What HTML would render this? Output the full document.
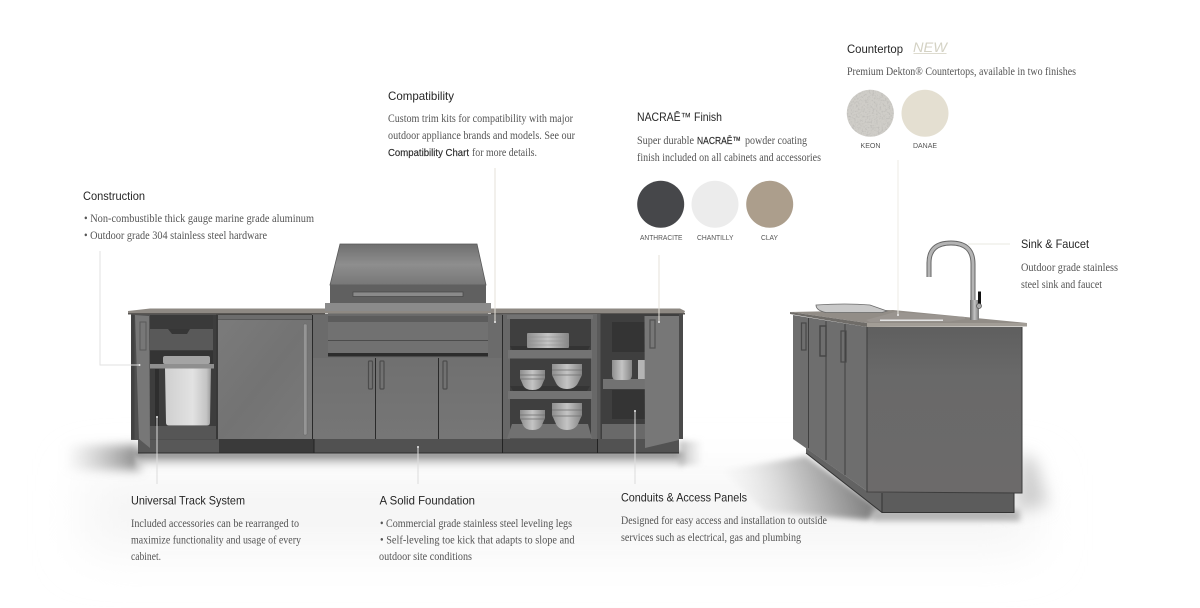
<!DOCTYPE html>
<html><head><meta charset="utf-8"><style>
html,body{margin:0;padding:0;background:#fff;width:1200px;height:608px;overflow:hidden}
svg{display:block}
.h{font-family:"Liberation Sans",sans-serif;font-size:12px;fill:#262626}
.b{font-family:"Liberation Serif",serif;font-size:11.5px;fill:#555}
.bs{font-family:"Liberation Sans",sans-serif;font-size:10.5px;fill:#2a2a2a;stroke:#2a2a2a;stroke-width:.15}
.l{font-family:"Liberation Sans",sans-serif;font-size:7.5px;fill:#555}
</style></head><body>
<svg width="1200" height="608" viewBox="0 0 1200 608" xmlns="http://www.w3.org/2000/svg">
<defs>
<filter id="b30" x="-30%" y="-100%" width="160%" height="300%"><feGaussianBlur stdDeviation="24"/></filter>
<filter id="b8" x="-40%" y="-60%" width="180%" height="220%"><feGaussianBlur stdDeviation="8"/></filter>
<filter id="b5" x="-40%" y="-100%" width="180%" height="300%"><feGaussianBlur stdDeviation="5"/></filter>
<filter id="b3" x="-40%" y="-100%" width="180%" height="300%"><feGaussianBlur stdDeviation="3"/></filter>
<filter id="b2" x="-10%" y="-60%" width="120%" height="220%"><feGaussianBlur stdDeviation="2"/></filter>
<filter id="speck" x="0" y="0" width="100%" height="100%"><feTurbulence type="fractalNoise" baseFrequency="0.55" numOctaves="3" seed="4"/><feColorMatrix values="0 0 0 0 .42  0 0 0 0 .41  0 0 0 0 .40  1.6 0 0 0 -.75"/><feComposite in2="SourceAlpha" operator="in"/><feMerge><feMergeNode in="SourceGraphic"/><feMergeNode/></feMerge></filter>
<linearGradient id="lid" x1="0" y1="0" x2="0" y2="1"><stop offset="0" stop-color="#6f6f6f"/><stop offset=".5" stop-color="#8e8e8e"/><stop offset="1" stop-color="#777"/></linearGradient>
<linearGradient id="fr" x1="0" y1="0" x2="1" y2="1"><stop offset="0" stop-color="#7b7b7b"/><stop offset=".5" stop-color="#737373"/><stop offset="1" stop-color="#7a7a7a"/></linearGradient>
<linearGradient id="door" x1="0" y1="0" x2="0" y2="1"><stop offset="0" stop-color="#707070"/><stop offset="1" stop-color="#767676"/></linearGradient>
<linearGradient id="bin" x1="0" y1="0" x2="1" y2="0"><stop offset="0" stop-color="#cfcfcf"/><stop offset=".6" stop-color="#e2e2e2"/><stop offset=".9" stop-color="#c4c4c4"/><stop offset="1" stop-color="#9a9a9a"/></linearGradient>
<linearGradient id="bowl" x1="0" y1="0" x2="1" y2="0"><stop offset="0" stop-color="#8e8e8e"/><stop offset=".5" stop-color="#c4c4c4"/><stop offset="1" stop-color="#858585"/></linearGradient>
<linearGradient id="isl" x1="0" y1="0" x2="0" y2="1"><stop offset="0" stop-color="#5f5f5f"/><stop offset=".3" stop-color="#696969"/><stop offset="1" stop-color="#6c6a6a"/></linearGradient>
<linearGradient id="chrome" x1="0" y1="0" x2="1" y2="0"><stop offset="0" stop-color="#666"/><stop offset=".5" stop-color="#c4c4c4"/><stop offset="1" stop-color="#777"/></linearGradient>
<linearGradient id="under" x1="0" y1="0" x2="0" y2="1"><stop offset="0" stop-color="#777"/><stop offset=".35" stop-color="#b8b8b8"/><stop offset="1" stop-color="#fff" stop-opacity="0"/></linearGradient>
<linearGradient id="leftb" x1="0" y1="0" x2="1" y2="0"><stop offset="0" stop-color="#aaa" stop-opacity="0"/><stop offset="1" stop-color="#888"/></linearGradient>
<linearGradient id="rightb" x1="0" y1="0" x2="1" y2="0"><stop offset="0" stop-color="#bbb"/><stop offset="1" stop-color="#ccc" stop-opacity="0"/></linearGradient>
<linearGradient id="isll" gradientUnits="userSpaceOnUse" x1="860" y1="470" x2="725" y2="510"><stop offset="0" stop-color="#808080"/><stop offset=".45" stop-color="#c4c4c4"/><stop offset="1" stop-color="#f0f0f0" stop-opacity="0"/></linearGradient>
</defs>

<!-- soft floor shadows -->
<rect x="85" y="475" width="950" height="75" fill="#f5f5f5" filter="url(#b30)"/>
<rect x="65" y="445" width="75" height="25" fill="url(#leftb)" filter="url(#b5)"/>
<rect x="136" y="452" width="548" height="20" fill="url(#under)" filter="url(#b2)"/>
<rect x="679" y="441" width="24" height="24" fill="url(#rightb)" filter="url(#b3)"/>
<polygon points="722,470 806,456 882,510 868,520 765,512" fill="url(#isll)" filter="url(#b3)"/>
<rect x="872" y="509" width="148" height="12" fill="#b4b4b4" filter="url(#b3)"/>
<polygon points="1021,452 1036,462 1048,505 1014,512" fill="#cfcfcf" filter="url(#b8)"/>

<!-- MAIN UNIT -->
<rect x="138" y="439" width="81" height="14" fill="#585858"/>
<rect x="219" y="439" width="95" height="14" fill="#3a3a3a"/>
<rect x="314" y="439" width="188" height="14" fill="#515151"/>
<rect x="503" y="439" width="94" height="14" fill="#4c4c4c"/>
<rect x="598" y="439" width="81" height="14" fill="#525252"/>
<rect x="138" y="452.500" width="541" height="1" fill="#2a2a2a"/>
<path d="M314 439v14M502.500 439v14M597.500 439v14" stroke="#222" fill="none"/>

<!-- left cabinet -->
<rect x="131" y="314" width="87" height="126" fill="#4f4f4f"/>
<rect x="150" y="315" width="66" height="124" fill="#3d3d3d"/>
<rect x="150" y="329" width="63" height="21" fill="#595959"/>
<polygon points="168,329 190,329 187,334 172,334" fill="#363636"/>
<rect x="150" y="315" width="63" height="14" fill="#3a3a3a"/>
<rect x="150" y="351" width="63" height="14" fill="#343434"/>
<rect x="163" y="356" width="47" height="8" rx="2" fill="#a4a4a4"/>
<rect x="150" y="364" width="64" height="4.500" fill="#8f8f8f"/>
<path d="M165 368.500h46l-1 54q0 3-3 3h-38q-3 0-3-3z" fill="url(#bin)"/>
<rect x="155" y="369" width="4" height="58" fill="#2e2e2e"/>
<rect x="150" y="426" width="66" height="13" fill="#565656"/>
<polygon points="135,315 149,316 150,448 139,439" fill="#777"/>
<rect x="140" y="322" width="6" height="28" fill="none" stroke="#5a5a5a"/>
<rect x="131" y="314" width="3.500" height="125" fill="#424242"/>

<!-- fridge -->
<rect x="216" y="314" width="97" height="125" fill="#383838"/>
<rect x="218" y="315" width="94" height="4" fill="#6c6c6c"/>
<rect x="218" y="319.500" width="94" height="119.500" fill="url(#fr)"/>
<rect x="303.500" y="324" width="3.500" height="111" rx="1" fill="#959595" stroke="#666" stroke-width=".5"/>

<!-- lower doors -->
<rect x="312" y="314" width="192" height="125" fill="#6b6b6b"/>
<rect x="313" y="358" width="62" height="81" fill="url(#door)"/>
<rect x="376" y="358" width="62" height="81" fill="url(#door)"/>
<rect x="439" y="358" width="62.500" height="81" fill="url(#door)"/>
<path d="M375.500 358v81M438.500 358v81M312.500 315v124M502.500 315v124" stroke="#2a2a2a"/>
<rect x="368.500" y="361" width="4" height="28" rx="1" fill="none" stroke="#4c4c4c" stroke-width="1.200"/>
<rect x="380" y="361" width="4" height="28" rx="1" fill="none" stroke="#4c4c4c" stroke-width="1.200"/>
<rect x="443" y="361" width="4" height="28" rx="1" fill="none" stroke="#4c4c4c" stroke-width="1.200"/>

<!-- grill -->
<polygon points="340,244 477,244 486,285 330,285" fill="url(#lid)" stroke="#5a5a5a" stroke-width=".8"/>
<rect x="330" y="285" width="156" height="18" fill="#606060"/>
<rect x="353" y="292" width="110" height="4.500" fill="#8a8a8a" stroke="#484848" stroke-width=".7"/>
<rect x="325" y="303" width="166" height="8" fill="#8b8b8b"/>
<rect x="328" y="311" width="160" height="42" fill="#717171"/>
<rect x="328" y="311" width="160" height="5" fill="#6a6a6a"/>
<rect x="328" y="316" width="160" height="6" fill="#5c5c5c"/>
<path d="M328 340.500h160" stroke="#4c4c4c"/>
<rect x="328" y="353" width="160" height="3.500" fill="#2c2c2c"/>

<!-- countertop -->
<polygon points="128,311 150,308.500 325,308.500 325,311 491,311 491,308.500 680,308.500 685,311 684,313.500 128,313.500" fill="#8e8983"/>
<rect x="128" y="313" width="197" height="1.500" fill="#5a5754"/>
<rect x="491" y="313" width="194" height="1.500" fill="#5a5754"/>

<!-- shelving cabinet -->
<rect x="503" y="314" width="94" height="125" fill="#686868"/>
<rect x="510" y="319" width="81" height="120" fill="#3f3f3f"/>
<rect x="507" y="315" width="86" height="4" fill="#727272"/>
<rect x="508" y="350" width="84" height="8.500" fill="#737373"/>
<polygon points="512,350 588,350 590,346 510,346" fill="#333"/>
<rect x="508" y="391" width="84" height="8" fill="#737373"/>
<polygon points="513,391 587,391 590,386 510,386" fill="#353535"/>
<polygon points="507,438.500 512,424 588,424 592,438.500" fill="#717171"/>
<rect x="527" y="333" width="42" height="15" rx="1" fill="url(#bowl)"/>
<path d="M527 337h42M527 341h42M527 345h42" stroke="#8e8e8e" stroke-width=".6"/>
<path d="M520 370h25v8l-3 7q-2 5-9.500 5t-9.500-5l-3-7z" fill="url(#bowl)"/>
<path d="M552 364h30v11l-4 8q-3 6-11 6t-11-6l-4-8z" fill="url(#bowl)"/>
<path d="M520 410h25v8l-3 7q-2 5-9.500 5t-9.500-5l-3-7z" fill="url(#bowl)"/>
<path d="M552 403h30v12l-4 9q-3 6-11 6t-11-6l-4-9z" fill="url(#bowl)"/>
<path d="M520 375h25M520 379h25M552 370h30M552 375h30M520 415h25M520 419h25M552 410h30M552 416h30" stroke="#6e6e6e" stroke-width=".7"/>

<!-- right cabinet -->
<rect x="597" y="314" width="86" height="125" fill="#3f3f3f"/>
<rect x="597" y="314" width="3.500" height="125" fill="#5a5a5a"/>
<rect x="612" y="322" width="33" height="30" fill="#343434"/>
<rect x="612" y="390" width="33" height="29" fill="#343434"/>
<rect x="603" y="379" width="42" height="10" fill="#727272"/>
<path d="M612 360h20v15q0 5-5 5h-10q-5 0-5-5z" fill="url(#bowl)"/>
<rect x="638" y="360" width="7" height="19" fill="#b4b4b4"/>
<rect x="602" y="424" width="43" height="15" fill="#696969"/>
<polygon points="644.500,316 679,316 679,440 645,448" fill="#777"/>
<rect x="650" y="320" width="5" height="28" fill="none" stroke="#525252" stroke-width="1.200"/>
<rect x="679" y="314" width="4" height="125" fill="#4a4a4a"/>

<!-- ISLAND -->
<rect x="882" y="493" width="132" height="20" fill="#5c5c5c"/>
<polygon points="806,448 867,491 882,493 882,512.500 806,453" fill="#626262"/>
<path d="M882 493v19.500H1014V493M806 453L882 512.500" stroke="#333" fill="none"/>
<polygon points="793,315 867,327 867,491 793,439" fill="#6e6e6e"/>
<path d="M808.500 318v130M826 321v139M845 324v151" stroke="#404040"/>
<rect x="867" y="327" width="155" height="166" fill="url(#isl)"/>
<path d="M867 327v165L1022 493v-166" stroke="#3c3c3c" fill="none"/>
<rect x="801.500" y="323" width="4.500" height="27" fill="none" stroke="#484848" stroke-width="1.200"/>
<rect x="820" y="326" width="6" height="30" fill="none" stroke="#444" stroke-width="1.400"/>
<rect x="841" y="331" width="5" height="31" fill="none" stroke="#484848" stroke-width="1.200"/>
<polygon points="790,312 893,310 1027,323 867,323" fill="#928d87"/>
<polygon points="790,312 867,323 867,327 790,314" fill="#6f6c68"/>
<polygon points="867,323 1027,323 1027,326.500 867,327" fill="#a29d96"/>
<polygon points="866,320 895,312 965,317 965,319 950,321.500 870,322" fill="#9a9590"/>
<rect x="880" y="319.500" width="63" height="1.500" fill="#e4e4e4"/>
<path d="M816 305q30-2 54 0l17 6-5 1.500H826q-10-2-10-7.500z" fill="#c9c9c9" stroke="#6a6a6a" stroke-width=".8"/>
<!-- faucet -->
<path d="M973 316V264q0-21-22-21t-22 20v14" fill="none" stroke="#666" stroke-width="5"/>
<path d="M973 316V264q0-21-22-21t-22 20v14" fill="none" stroke="#b4b4b4" stroke-width="3"/>
<rect x="970" y="300" width="9" height="20" fill="url(#chrome)"/>
<rect x="978" y="291.500" width="3" height="13" fill="#111"/>
<circle cx="979" cy="306" r="2.500" fill="#aaa" stroke="#555" stroke-width=".7"/>

<!-- connectors -->
<path d="M100 251V365H139" fill="none" stroke="#e2e2e2"/>
<path d="M495 168V322" stroke="#e4e1da"/>
<path d="M659 255V322" stroke="#e4e1da"/>
<path d="M898 160V315" stroke="#ecebe4"/>
<path d="M968 244H1010" stroke="#e8e8e0"/>
<path d="M157 417V484" stroke="#dcdcdc"/>
<path d="M418 447V484" stroke="#dcdcdc"/>
<path d="M635 411V484" stroke="#dcdcdc"/>
<g fill="#eee"><circle cx="139.500" cy="365" r="1"/><circle cx="495" cy="322" r="1"/><circle cx="659" cy="322" r="1"/><circle cx="898" cy="315" r="1"/><circle cx="157" cy="417" r="1"/><circle cx="418" cy="447" r="1"/><circle cx="635" cy="411" r="1"/></g>

<!-- TEXT -->
<text class="h" x="83" y="200" textLength="62" lengthAdjust="spacingAndGlyphs">Construction</text>
<text class="b" x="84" y="222" textLength="230" lengthAdjust="spacingAndGlyphs">• Non-combustible thick gauge marine grade aluminum</text>
<text class="b" x="84" y="239" textLength="183" lengthAdjust="spacingAndGlyphs">• Outdoor grade 304 stainless steel hardware</text>

<text class="h" x="388" y="100" textLength="66" lengthAdjust="spacingAndGlyphs">Compatibility</text>
<text class="b" x="388" y="122" textLength="185" lengthAdjust="spacingAndGlyphs">Custom trim kits for compatibility with major</text>
<text class="b" x="388" y="139" textLength="187" lengthAdjust="spacingAndGlyphs">outdoor appliance brands and models. See our</text>
<text class="bs" x="388" y="156" textLength="81" lengthAdjust="spacingAndGlyphs">Compatibility Chart</text>
<text class="b" x="472" y="156" textLength="65" lengthAdjust="spacingAndGlyphs">for more details.</text>

<text class="h" x="637" y="121" textLength="85" lengthAdjust="spacingAndGlyphs">NACRAĒ™ Finish</text>
<text class="b" x="637" y="144" textLength="57" lengthAdjust="spacingAndGlyphs">Super durable</text>
<text class="bs" x="697" y="144" textLength="44" lengthAdjust="spacingAndGlyphs">NACRAĒ™</text>
<text class="b" x="745" y="144" textLength="62" lengthAdjust="spacingAndGlyphs">powder coating</text>
<text class="b" x="637" y="161" textLength="184" lengthAdjust="spacingAndGlyphs">finish included on all cabinets and accessories</text>
<circle cx="660.700" cy="204.300" r="23.500" fill="#46474a"/>
<circle cx="715" cy="204.300" r="23.500" fill="#ececec"/>
<circle cx="769.700" cy="204.300" r="23.500" fill="#ac9e8c"/>
<text class="l" x="640" y="240" textLength="42.500" lengthAdjust="spacingAndGlyphs">ANTHRACITE</text>
<text class="l" x="697" y="240" textLength="36.500" lengthAdjust="spacingAndGlyphs">CHANTILLY</text>
<text class="l" x="761" y="240" textLength="17" lengthAdjust="spacingAndGlyphs">CLAY</text>

<text class="h" x="847" y="53" textLength="56" lengthAdjust="spacingAndGlyphs">Countertop</text>
<text x="913" y="52" font-family="Liberation Sans,sans-serif" font-style="italic" font-size="14" fill="#d4d2c4" textLength="34" lengthAdjust="spacingAndGlyphs">NEW</text>
<rect x="913.500" y="53" width="33" height="1" fill="#dddbcf"/>
<text class="b" x="847" y="75" textLength="229" lengthAdjust="spacingAndGlyphs">Premium Dekton® Countertops, available in two finishes</text>
<circle cx="870.300" cy="113.300" r="23.500" fill="#cfcdc8" filter="url(#speck)"/>
<circle cx="925" cy="113.300" r="23.500" fill="#e4dfd1"/>
<text class="l" x="860.500" y="148" textLength="20" lengthAdjust="spacingAndGlyphs">KEON</text>
<text class="l" x="913" y="148" textLength="24" lengthAdjust="spacingAndGlyphs">DANAE</text>

<text class="h" x="1021" y="248" textLength="68" lengthAdjust="spacingAndGlyphs">Sink &amp; Faucet</text>
<text class="b" x="1021" y="271" textLength="97" lengthAdjust="spacingAndGlyphs">Outdoor grade stainless</text>
<text class="b" x="1021" y="288" textLength="81" lengthAdjust="spacingAndGlyphs">steel sink and faucet</text>

<text class="h" x="131" y="504.500" textLength="114" lengthAdjust="spacingAndGlyphs">Universal Track System</text>
<text class="b" x="131" y="527" textLength="168" lengthAdjust="spacingAndGlyphs">Included accessories can be rearranged to</text>
<text class="b" x="131" y="543.500" textLength="170" lengthAdjust="spacingAndGlyphs">maximize functionality and usage of every</text>
<text class="b" x="131" y="560" textLength="30" lengthAdjust="spacingAndGlyphs">cabinet.</text>

<text class="h" x="379.500" y="504.500" textLength="95.500" lengthAdjust="spacingAndGlyphs">A Solid Foundation</text>
<text class="b" x="380" y="527" textLength="192" lengthAdjust="spacingAndGlyphs">• Commercial grade stainless steel leveling legs</text>
<text class="b" x="380" y="543.500" textLength="194.500" lengthAdjust="spacingAndGlyphs">• Self-leveling toe kick that adapts to slope and</text>
<text class="b" x="379" y="560" textLength="93" lengthAdjust="spacingAndGlyphs">outdoor site conditions</text>

<text class="h" x="621" y="501.500" textLength="126" lengthAdjust="spacingAndGlyphs">Conduits &amp; Access Panels</text>
<text class="b" x="621" y="524" textLength="206" lengthAdjust="spacingAndGlyphs">Designed for easy access and installation to outside</text>
<text class="b" x="621" y="541" textLength="180" lengthAdjust="spacingAndGlyphs">services such as electrical, gas and plumbing</text>
</svg>
</body></html>
